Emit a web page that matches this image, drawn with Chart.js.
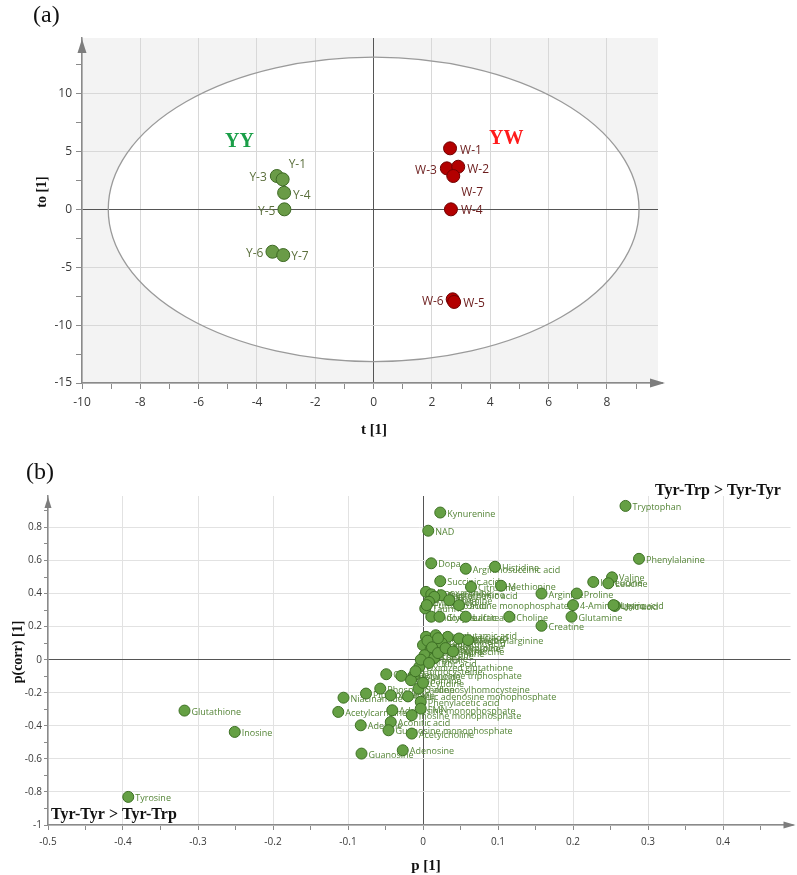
<!DOCTYPE html>
<html>
<head>
<meta charset="utf-8">
<script src="https://cdn.jsdelivr.net/npm/chart.js@4.4.1/dist/chart.umd.min.js"></script>
<style>
  html,body{margin:0;padding:0;background:#fff;}
  #wrap{position:relative;width:797px;height:875px;overflow:hidden;}
  canvas{position:absolute;left:0;}
  #ca{top:0;}
  #cb{top:440px;}
</style>
</head>
<body>
<div id="wrap">
<canvas id="ca" width="797" height="440"></canvas>
<canvas id="cb" width="797" height="435"></canvas>
</div>
<script>
// ---------------- Panel (a) data ----------------
const yyNames = ['Y-3', 'Y-1', 'Y-4', 'Y-5', 'Y-6', 'Y-7'];
const yyT     = [-3.32, -3.12, -3.07, -3.06, -3.47, -3.10];
const yyTo    = [ 2.88,  2.59,  1.43,  0.00, -3.66, -3.95];

const ywNames = ['W-1', 'W-3', 'W-2', 'W-7', 'W-4', 'W-6', 'W-5'];
const ywT     = [ 2.62,  2.51,  2.90,  2.73,  2.65,  2.71,  2.76];
const ywTo    = [ 5.27,  3.54,  3.68,  2.88,  0.00, -7.77, -8.00];

const ellipseT = 9.1;     // half-axis of the Hotelling ellipse along t[1]
const ellipseTo = 13.15;  // half-axis along to[1]

const xTicksA = [-10, -8, -6, -4, -2, 0, 2, 4, 6, 8];
const xMinorA = [-10,-9,-8,-7,-6,-5,-4,-3,-2,-1,0,1,2,3,4,5,6,7,8,9];
const yTicksA = [-15, -10, -5, 0, 5, 10];
const yMinorA = [-15,-12.5,-10,-7.5,-5,-2.5,0,2.5,5,7.5,10,12.5];

// ---------------- Panel (b) data ----------------
const metNames = ['Tryptophan','Phenylalanine','Valine','Leucine','Isoleucine','Proline','Arginine',
 '4-Aminobutyric acid','Uric acid','Lysine','Glutamine','Creatine','Choline','Methionine','Histidine',
 'Argininosuccinic acid','Citrulline','Succinic acid','Dopa','NAD','Kynurenine','Hypoxanthine',
 'Dimethylglycine','Pantothenic acid','Betaine','Uridine monophosphate','Malic acid','Taurine',
 'Indoxyl sulfate','Glycine','Lactic acid','Ornithine','Pyroglutamic acid','Aspartic acid','Carnitine',
 'N-acetylarginine','Glutamic acid','Threonine','Asparagine','Carnosine','Serine','Oxidized glutathione',
 'Adenosine triphosphate','Hypotaurine','Cytosine','Dopamine','S-adenosylhomocysteine','Phosphocholine',
 'Pipecolic acid','Xanthine','Cyclic adenosine monophosphate','Niacinamide','Phenylacetic acid','FMN',
 'Adenosine monophosphate','Acetylcarnitine','Inosine monophosphate','Aconitic acid','Adenine',
 'Guanosine monophosphate','Acetylcholine','Adenosine','Guanosine','Glutathione','Inosine','Tyrosine',
 'Cystathionine','Hydroxyproline','Tyramine','Spermidine','Putrescine','Sorbitol','Citric acid',
 'Fumaric acid','Homocysteine','Cytidine','Uridine','Thymine'];
const metP = [0.270,0.288,0.252,0.247,0.227,0.205,0.158,
 0.200,0.256,0.254,0.198,0.158,0.115,0.104,0.096,
 0.057,0.064,0.023,0.011,0.007,0.023,0.004,
 0.011,0.024,0.015,0.048,0.008,0.003,
 0.011,0.022,0.057,0.004,0.017,0.033,0.048,
 0.060,0.025,0.000,0.010,0.002,0.015,-0.005,
 -0.012,-0.029,-0.049,-0.016,-0.006,-0.057,
 -0.076,-0.043,-0.020,-0.106,-0.003,-0.003,
 -0.041,-0.113,-0.015,-0.043,-0.083,
 -0.046,-0.015,-0.027,-0.082,-0.318,-0.251,-0.393,
 0.006,0.012,0.020,0.030,0.040,-0.003,0.008,
 0.005,-0.010,0.000,0.020,0.035];
const metPcorr = [0.930,0.610,0.498,0.462,0.470,0.400,0.400,
 0.330,0.325,0.330,0.260,0.205,0.260,0.447,0.562,
 0.550,0.440,0.475,0.583,0.780,0.890,0.410,
 0.395,0.390,0.380,0.330,0.350,0.310,
 0.260,0.260,0.260,0.138,0.148,0.138,0.128,
 0.118,0.100,0.088,0.060,0.027,0.010,-0.044,
 -0.094,-0.098,-0.088,-0.124,-0.175,-0.175,
 -0.205,-0.215,-0.222,-0.230,-0.255,-0.296,
 -0.306,-0.316,-0.336,-0.377,-0.397,
 -0.427,-0.447,-0.548,-0.568,-0.308,-0.437,-0.830,
 0.115,0.075,0.040,0.070,0.050,0.000,-0.020,
 0.330,-0.070,-0.140,0.130,0.360];

const xTicksB = [-0.5,-0.4,-0.3,-0.2,-0.1,0,0.1,0.2,0.3,0.4];
const xLabelsB = ['-0.5','-0.4','-0.3','-0.2','-0.1','0','0.1','0.2','0.3','0.4'];
const xMinorB = [-0.5,-0.45,-0.4,-0.35,-0.3,-0.25,-0.2,-0.15,-0.1,-0.05,0,0.05,0.1,0.15,0.2,0.25,0.3,0.35,0.4,0.45];
const yTicksB = [-1,-0.8,-0.6,-0.4,-0.2,0,0.2,0.4,0.6,0.8];
const yLabelsB = ['-1','-0.8','-0.6','-0.4','-0.2','0','0.2','0.4','0.6','0.8'];
const yMinorB = [-1,-0.9,-0.8,-0.7,-0.6,-0.5,-0.4,-0.3,-0.2,-0.1,0,0.1,0.2,0.3,0.4,0.5,0.6,0.7,0.8,0.9];

// ---------------- styles ----------------
const yyLabelDx = [-10, 6, 9, -9, -9, 8];   // negative => right aligned to the left of point
const yyLabelDy = [2, -15, 3, 2, 2, 2];
const ywLabelDx = [10, -10, 9, 8, 10, -9, 9];
const ywLabelDy = [2, 2, 3, 17, 1, 2, 2];

const SANS = "'Open Sans', 'Noto Sans', sans-serif";
const SERIF = "'Liberation Serif', 'DejaVu Serif', serif";

function near(a, b){ return Math.abs(a - b) < 1e-7; }
function isIn(arr, v){ return arr.some(a => near(a, v)); }

function makeScale(opts){
  const {min, max, all, major, labels, fontSize, gridColor, tickLen, pad, fixed, axis} = opts;
  return {
    type: 'linear', min, max,
    afterBuildTicks: (s) => { s.ticks = all.map(v => ({value: v})); },
    afterFit: (s) => { if (axis === 'x') s.height = fixed; else s.width = fixed; },
    ticks: {
      autoSkip: false, maxRotation: 0, padding: pad,
      color: '#3a3a3a', font: {family: SANS, size: fontSize},
      callback: (v) => { const i = major.findIndex(m => near(m, v)); return i >= 0 ? (labels ? labels[i] : String(major[i])) : ''; }
    },
    grid: {
      drawTicks: true, tickLength: tickLen, tickColor: '#8a8a8a', tickWidth: 1,
      color: (c) => { const v = c.tick ? c.tick.value : null; if (v === null) return 'rgba(0,0,0,0)';
        if (near(v, 0)) return '#555'; return isIn(major, v) ? gridColor : 'rgba(0,0,0,0)'; },
      lineWidth: 1
    },
    border: {display: true, color: '#8a8a8a', width: 1.5}
  };
}

function arrowPlugin(tipExtra, half, len){
  return {
    id: 'arrows',
    afterDraw(chart){
      const a = chart.chartArea, ctx = chart.ctx;
      ctx.save();
      ctx.fillStyle = '#7d7d7d'; ctx.strokeStyle = '#8a8a8a'; ctx.lineWidth = 1.5;
      ctx.beginPath();
      ctx.moveTo(a.left, a.top + 1);
      ctx.lineTo(a.left - half, a.top + len);
      ctx.lineTo(a.left + half, a.top + len);
      ctx.closePath(); ctx.fill();
      const tip = a.right + tipExtra;
      ctx.beginPath(); ctx.moveTo(a.right, a.bottom); ctx.lineTo(tip - 2, a.bottom); ctx.stroke();
      ctx.beginPath();
      ctx.moveTo(tip, a.bottom);
      ctx.lineTo(tip - len, a.bottom - half);
      ctx.lineTo(tip - len, a.bottom + half);
      ctx.closePath(); ctx.fill();
      ctx.restore();
    }
  };
}

// ---------------- Chart (a) ----------------
const ellipsePlugin = {
  id: 'ellipse',
  beforeDraw(chart){
    const a = chart.chartArea, ctx = chart.ctx, xs = chart.scales.x, ys = chart.scales.y;
    const cx = xs.getPixelForValue(0), cy = ys.getPixelForValue(0);
    const rx = xs.getPixelForValue(ellipseT) - cx, ry = cy - ys.getPixelForValue(ellipseTo);
    ctx.save();
    ctx.fillStyle = '#f3f3f3'; ctx.fillRect(a.left, a.top, a.right - a.left, a.bottom - a.top);
    ctx.beginPath(); ctx.ellipse(cx, cy, rx, ry, 0, 0, Math.PI * 2);
    ctx.fillStyle = '#ffffff'; ctx.fill();
    ctx.restore();
  },
  beforeDatasetsDraw(chart){
    const ctx = chart.ctx, xs = chart.scales.x, ys = chart.scales.y;
    const cx = xs.getPixelForValue(0), cy = ys.getPixelForValue(0);
    const rx = xs.getPixelForValue(ellipseT) - cx, ry = cy - ys.getPixelForValue(ellipseTo);
    ctx.save();
    ctx.beginPath(); ctx.ellipse(cx, cy, rx, ry, 0, 0, Math.PI * 2);
    ctx.strokeStyle = '#9a9a9a'; ctx.lineWidth = 1.3; ctx.stroke();
    ctx.restore();
  }
};

const labelsA = {
  id: 'labelsA',
  afterDatasetsDraw(chart){
    const ctx = chart.ctx;
    ctx.save();
    ctx.font = '12px ' + SANS; ctx.textBaseline = 'middle';
    const groups = [[0, yyNames, yyLabelDx, yyLabelDy, '#5b6f3c'], [1, ywNames, ywLabelDx, ywLabelDy, '#6b1c1c']];
    groups.forEach(([di, names, dxs, dys, col]) => {
      const meta = chart.getDatasetMeta(di);
      ctx.fillStyle = col;
      meta.data.forEach((el, i) => {
        const dx = dxs[i];
        ctx.textAlign = dx < 0 ? 'right' : 'left';
        ctx.fillText(names[i], el.x + dx, el.y + dys[i]);
      });
    });
    const xs = chart.scales.x, ys = chart.scales.y;
    ctx.font = 'bold 20px ' + SERIF; ctx.textAlign = 'center';
    ctx.fillStyle = '#1a9e48'; ctx.fillText('YY', xs.getPixelForValue(-4.6), ys.getPixelForValue(5.8));
    ctx.fillStyle = '#ff1a1a'; ctx.fillText('YW', xs.getPixelForValue(4.55), ys.getPixelForValue(6.1));
    ctx.fillStyle = '#111';
    ctx.font = '24px ' + SERIF; ctx.textAlign = 'left';
    ctx.fillText('(a)', 33, 16);
    ctx.font = 'bold 15px ' + SERIF; ctx.textAlign = 'center';
    ctx.fillText('t [1]', 374, 430);
    ctx.save();
    ctx.translate(42, 192); ctx.rotate(-Math.PI / 2);
    ctx.font = 'bold 14px ' + SERIF;
    ctx.fillText('to [1]', 0, 0);
    ctx.restore();
    ctx.restore();
  }
};

new Chart(document.getElementById('ca'), {
  type: 'scatter',
  data: {
    datasets: [
      { label: 'YY', data: yyT.map((t, i) => ({x: t, y: yyTo[i]})),
        backgroundColor: '#6a9b47', borderColor: '#3e6a24', borderWidth: 1, pointRadius: 6.5 },
      { label: 'YW', data: ywT.map((t, i) => ({x: t, y: ywTo[i]})),
        backgroundColor: '#b30000', borderColor: '#700000', borderWidth: 1, pointRadius: 6.5 }
    ]
  },
  options: {
    responsive: false, animation: false, devicePixelRatio: 1,
    layout: { padding: {left: 0, top: 38, right: 139, bottom: 0} },
    plugins: { legend: {display: false}, tooltip: {enabled: false} },
    scales: {
      x: makeScale({min: -10, max: 9.75, all: xMinorA, major: xTicksA, fontSize: 12, gridColor: '#d8d8d8', tickLen: 6, pad: 6, fixed: 57, axis: 'x'}),
      y: makeScale({min: -15, max: 14.8, all: yMinorA, major: yTicksA, fontSize: 12, gridColor: '#d8d8d8', tickLen: 6, pad: 4, fixed: 82, axis: 'y'})
    }
  },
  plugins: [ellipsePlugin, labelsA, arrowPlugin(7, 4.5, 15)]
});

// ---------------- Chart (b) ----------------
const labelsB = {
  id: 'labelsB',
  beforeDatasetsDraw(chart){
    const ctx = chart.ctx;
    ctx.save();
    ctx.font = '9px ' + SANS; ctx.textBaseline = 'middle'; ctx.textAlign = 'left';
    ctx.fillStyle = '#548436';
    chart.getDatasetMeta(0).data.forEach((el, i) => {
      ctx.fillText(metNames[i], el.x + 7, el.y + 1.5);
    });
    ctx.restore();
  },
  afterDraw(chart){
    const ctx = chart.ctx;
    ctx.save();
    ctx.fillStyle = '#111';
    ctx.font = '24px ' + SERIF; ctx.textAlign = 'left'; ctx.textBaseline = 'middle';
    ctx.fillText('(b)', 26, 33);
    ctx.font = 'bold 16px ' + SERIF;
    ctx.textAlign = 'center';
    ctx.fillText('Tyr-Trp > Tyr-Tyr', 718, 51);
    ctx.textAlign = 'left';
    ctx.fillText('Tyr-Tyr > Tyr-Trp', 51, 375);
    ctx.font = 'bold 15px ' + SERIF;
    ctx.textAlign = 'center';
    ctx.fillText('p [1]', 426, 426);
    ctx.save();
    ctx.translate(18, 212); ctx.rotate(-Math.PI / 2);
    ctx.font = 'bold 14px ' + SERIF;
    ctx.fillText('p(corr) [1]', 0, 0);
    ctx.restore();
    ctx.restore();
  }
};

new Chart(document.getElementById('cb'), {
  type: 'scatter',
  data: {
    datasets: [
      { label: 'metabolites', data: metP.map((p, i) => ({x: p, y: metPcorr[i]})),
        backgroundColor: '#65a044', borderColor: '#3d7024', borderWidth: 1, pointRadius: 5.5 }
    ]
  },
  options: {
    responsive: false, animation: false, devicePixelRatio: 1,
    layout: { padding: {left: 0, top: 56, right: 5, bottom: 0} },
    plugins: { legend: {display: false}, tooltip: {enabled: false} },
    scales: {
      x: makeScale({min: -0.5, max: 0.49, all: xMinorB, major: xTicksB, labels: xLabelsB, fontSize: 10, gridColor: '#e2e2e2', tickLen: 5, pad: 6, fixed: 50, axis: 'x'}),
      y: makeScale({min: -1, max: 0.99, all: yMinorB, major: yTicksB, labels: yLabelsB, fontSize: 10, gridColor: '#e2e2e2', tickLen: 4, pad: 2, fixed: 48, axis: 'y'})
    }
  },
  plugins: [labelsB, arrowPlugin(5, 3.5, 12)]
});
</script>
</body>
</html>
